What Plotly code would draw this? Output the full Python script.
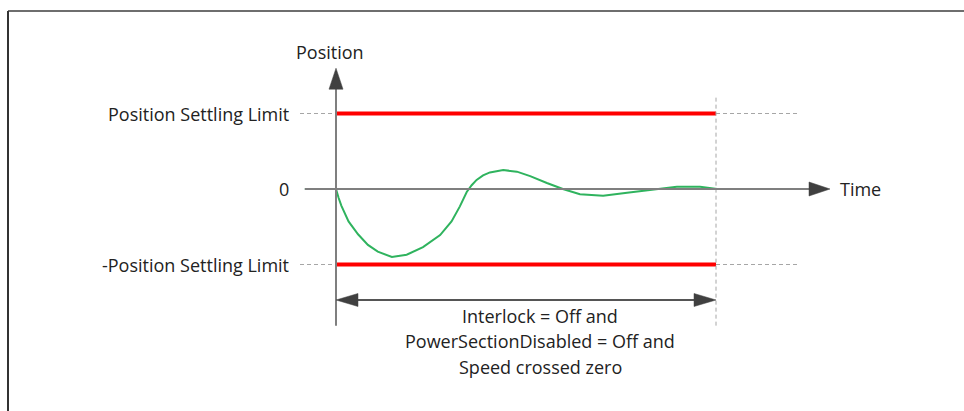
import plotly.graph_objects as go

# Settling diagram: position response oscillating around zero inside the settling band
limit = 1.0            # position settling limit (band half-width)
settle_time = 10.0     # time at which settling is evaluated
axis_start = -0.82     # start of the time axis (left of origin)
axis_end = 13.0        # tip of the time axis arrow
y_axis_top = 1.60      # tip of the position axis arrow
y_axis_bottom = -1.81  # bottom of the position axis
span_level = -1.47     # height of the double-headed interval arrow

# Position response samples
t_vals = [-0.82, 0.0, 0.07, 0.14, 0.33, 0.58, 0.84, 1.10, 1.47, 1.86, 2.29, 2.74, 3.04, 3.26,
          3.44, 3.57, 3.70, 3.87, 4.05, 4.40, 4.76, 5.11, 5.55, 5.97, 6.42, 7.03, 7.66, 8.26,
          8.97, 9.58, 10.03, 11.34]
p_vals = [0.0, 0.0, -0.12, -0.22, -0.43, -0.60, -0.74, -0.83, -0.90, -0.87, -0.77, -0.61,
          -0.43, -0.23, -0.04, 0.05, 0.12, 0.18, 0.22, 0.25, 0.23, 0.17, 0.08, 0.0, -0.07,
          -0.09, -0.05, -0.01, 0.03, 0.03, 0.0, 0.0]

level_labels = ["Position Settling Limit", "0", "-Position Settling Limit"]
level_values = [limit, 0.0, -limit]
condition_lines = ["Interlock = Off and", "PowerSectionDisabled = Off and", "Speed crossed zero"]

# scale: pixels per unit on each axis
PX_T = 38.0
PX_P = 75.5
W, H = 964, 411
X0_PX, Y0_PX = 336.0, 189.0

x_range = [-X0_PX / PX_T, (W - X0_PX) / PX_T]
y_range = [(Y0_PX - H) / PX_P, Y0_PX / PX_P]

def dx(px):
    return px / PX_T

def dy(px):
    return px / PX_P

FONT = "Open Sans"
FS = 18
TXT = "#222222"
AXIS = "#7f7f7f"
HEAD = "#404040"
DASH = "#a6a6a6"

fig = go.Figure()

shapes = []

# settling band limits: dashed extensions
for v in (limit, -limit):
    shapes.append(dict(type="line", xref="x", yref="y", x0=-dx(36), x1=0, y0=v, y1=v,
                       line=dict(color=DASH, width=1, dash="4px,3px")))
    shapes.append(dict(type="line", xref="x", yref="y", x0=settle_time, x1=settle_time + dx(81),
                       y0=v, y1=v, line=dict(color=DASH, width=1, dash="4px,3px")))

# vertical dashed marker at settle time
shapes.append(dict(type="line", xref="x", yref="y", x0=settle_time, x1=settle_time,
                   y0=y_axis_bottom, y1=limit + dy(16),
                   line=dict(color=DASH, width=1, dash="4px,3px")))

# time axis
shapes.append(dict(type="line", xref="x", yref="y", x0=axis_start, x1=axis_end - dx(20),
                   y0=0, y1=0, line=dict(color=AXIS, width=2)))
# position axis
shapes.append(dict(type="line", xref="x", yref="y", x0=0, x1=0,
                   y0=y_axis_bottom, y1=y_axis_top - dy(18), line=dict(color=AXIS, width=2)))

# interval arrow shaft
shapes.append(dict(type="line", xref="x", yref="y", x0=dx(10), x1=settle_time - dx(10),
                   y0=span_level, y1=span_level, line=dict(color="#555555", width=2)))

def head_path(tip_x, tip_y, direction, length_px, half_px):
    if direction == "up":
        pts = [(tip_x, tip_y), (tip_x - dx(half_px), tip_y - dy(length_px)),
               (tip_x + dx(half_px), tip_y - dy(length_px))]
    elif direction == "right":
        pts = [(tip_x, tip_y), (tip_x - dx(length_px), tip_y + dy(half_px)),
               (tip_x - dx(length_px), tip_y - dy(half_px))]
    else:
        pts = [(tip_x, tip_y), (tip_x + dx(length_px), tip_y + dy(half_px)),
               (tip_x + dx(length_px), tip_y - dy(half_px))]
    return "M " + " L ".join(f"{a},{b}" for a, b in pts) + " Z"

for path in (head_path(0, y_axis_top, "up", 21, 7),
             head_path(axis_end, 0, "right", 21, 7),
             head_path(0, span_level, "left", 22, 6.5),
             head_path(settle_time, span_level, "right", 22, 6.5)):
    shapes.append(dict(type="path", xref="x", yref="y", path=path,
                       fillcolor=HEAD, line=dict(color=HEAD, width=0.5)))

# outer frame
shapes.append(dict(type="line", xref="paper", yref="paper", x0=8 / W, x1=1,
                   y0=1 - 11 / H, y1=1 - 11 / H, line=dict(color="#6e6e6e", width=2)))
shapes.append(dict(type="line", xref="paper", yref="paper", x0=8 / W, x1=8 / W,
                   y0=0, y1=1 - 11 / H, line=dict(color="#333333", width=2)))

# red settling limit lines
for v in (limit, -limit):
    fig.add_trace(go.Scatter(x=[0, settle_time], y=[v, v], mode="lines",
                             line=dict(color="#ff0000", width=4), hoverinfo="skip"))

# position response
fig.add_trace(go.Scatter(x=t_vals, y=p_vals, mode="lines",
                         line=dict(color="#2fb35e", width=2), hoverinfo="skip"))

annotations = []
for lab, v in zip(level_labels, level_values):
    annotations.append(dict(x=-dx(45), y=v, xref="x", yref="y", text=lab, showarrow=False,
                            xanchor="right", yanchor="middle",
                            font=dict(family=FONT, size=FS, color=TXT)))
annotations.append(dict(x=-dx(6), y=y_axis_top + dy(16), xref="x", yref="y", text="Position",
                        showarrow=False, xanchor="center", yanchor="middle",
                        font=dict(family=FONT, size=FS, color=TXT)))
annotations.append(dict(x=axis_end + dx(8), y=0, xref="x", yref="y", text="Time",
                        showarrow=False, xanchor="left", yanchor="middle",
                        font=dict(family=FONT, size=FS, color=TXT)))
for i, line in enumerate(condition_lines):
    annotations.append(dict(x=settle_time / 2 + dx(14), y=span_level - dy(16 + 25.5 * i),
                            xref="x", yref="y", text=line, showarrow=False,
                            xanchor="center", yanchor="middle",
                            font=dict(family=FONT, size=FS, color=TXT)))

fig.update_layout(
    width=W, height=H,
    margin=dict(l=0, r=0, t=0, b=0, pad=0),
    paper_bgcolor="white", plot_bgcolor="white",
    showlegend=False,
    xaxis=dict(range=x_range, visible=False, fixedrange=True),
    yaxis=dict(range=y_range, visible=False, fixedrange=True),
    shapes=shapes,
    annotations=annotations,
)

fig.write_html("out.html")
